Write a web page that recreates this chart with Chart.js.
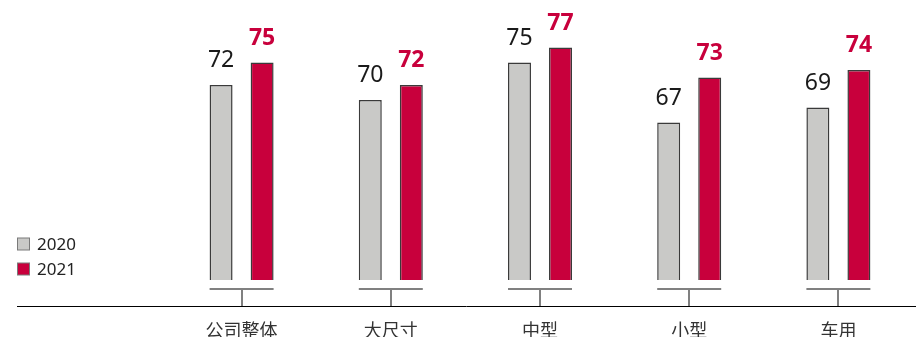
<!DOCTYPE html>
<html>
<head>
<meta charset="utf-8">
<script src="https://cdn.jsdelivr.net/npm/chart.js@4/dist/chart.umd.min.js"></script>
<style>
  html, body { margin: 0; padding: 0; background: #fff; }
  #wrap { width: 916px; height: 338px; position: relative; }
</style>
</head>
<body>
<div id="wrap"><canvas id="c"></canvas></div>
<script>
categories = ["公司整体", "大尺寸", "中型", "小型", "车用"];
seriesNames = ["2020", "2021"];
values2020 = [72, 70, 75, 67, 69];
values2021 = [75, 72, 77, 73, 74];

fontFamily = '"Noto Sans", "Noto Sans CJK SC", sans-serif';
grayFill = '#c9c9c7';
redFill = '#c8003c';

// data labels above bars
labelPlugin = {
    id: 'labels',
    afterDatasetsDraw(chart) {
        const ctx = chart.ctx;
        ctx.save();
        ctx.textAlign = 'center';
        ctx.textBaseline = 'alphabetic';
        chart.data.datasets.forEach((ds, di) => {
            const meta = chart.getDatasetMeta(di);
            ctx.font = (di == 1 ? 'bold ' : '') + '23px ' + fontFamily;
            ctx.fillStyle = di == 1 ? redFill : '#1a1a1a';
            meta.data.forEach((bar, i) => {
                ctx.fillText(ds.data[i], bar.x, bar.y - 18);
            });
        });
        ctx.restore();
    }
};

// brackets under each group, axis line and legend
decorPlugin = {
    id: 'decor',
    afterDraw(chart) {
        const ctx = chart.ctx;
        const area = chart.chartArea;
        const xs = chart.scales.x;
        const m0 = chart.getDatasetMeta(0);
        const m1 = chart.getDatasetMeta(1);
        const by = area.bottom + 9;
        const ay = area.bottom + 26;
        ctx.save();
        ctx.strokeStyle = '#808080';
        ctx.lineWidth = 2;
        categories.forEach((c, i) => {
            const b0 = m0.data[i], b1 = m1.data[i];
            ctx.beginPath();
            ctx.moveTo(b0.x - b0.width / 2, by);
            ctx.lineTo(b1.x + b1.width / 2, by);
            ctx.stroke();
            const cx = Math.round(xs.getPixelForValue(i));
            ctx.beginPath();
            ctx.moveTo(cx, by);
            ctx.lineTo(cx, ay);
            ctx.stroke();
        });
        ctx.strokeStyle = '#000';
        ctx.lineWidth = 1;
        ctx.beginPath();
        ctx.moveTo(17, ay + 0.5);
        ctx.lineTo(916, ay + 0.5);
        ctx.stroke();

        // legend
        ctx.font = '17px ' + fontFamily;
        ctx.textBaseline = 'middle';
        ctx.textAlign = 'left';
        chart.data.datasets.forEach((ds, di) => {
            const y = 244 + di * 25;
            ctx.fillStyle = ds.backgroundColor;
            ctx.fillRect(17.5, y - 6, 12, 12);
            ctx.strokeStyle = '#7a7a7a';
            ctx.strokeRect(17.5, y - 6, 12, 12);
            ctx.fillStyle = '#222';
            ctx.fillText(ds.label, 37, y + 1);
        });
        ctx.restore();
    }
};

chart = new Chart(document.getElementById('c'), {
    type: 'bar',
    data: {
        labels: categories,
        datasets: [{
            label: seriesNames[0],
            data: values2020,
            backgroundColor: grayFill,
            borderColor: '#3a3a3a',
            borderWidth: 1.5
        }, {
            label: seriesNames[1],
            data: values2021,
            backgroundColor: redFill,
            borderColor: '#3a3a3a',
            borderWidth: 1.5
        }]
    },
    options: {
        responsive: true,
        maintainAspectRatio: false,
        animation: false,
        categoryPercentage: 0.55,
        barPercentage: 0.56,
        layout: { padding: { left: 167, right: 3, top: 10, bottom: 1 } },
        plugins: {
            legend: { display: false },
            tooltip: { enabled: false }
        },
        scales: {
            x: {
                grid: { display: false, drawTicks: false },
                border: { display: false },
                ticks: {
                    padding: 41,
                    color: '#333',
                    font: { family: fontFamily, size: 18 }
                },
                afterFit(scale) {
                    scale.height = 57;
                }
            },
            y: {
                display: false,
                min: 46,
                max: 82
            }
        }
    },
    plugins: [labelPlugin, decorPlugin]
});
</script>
</body>
</html>
